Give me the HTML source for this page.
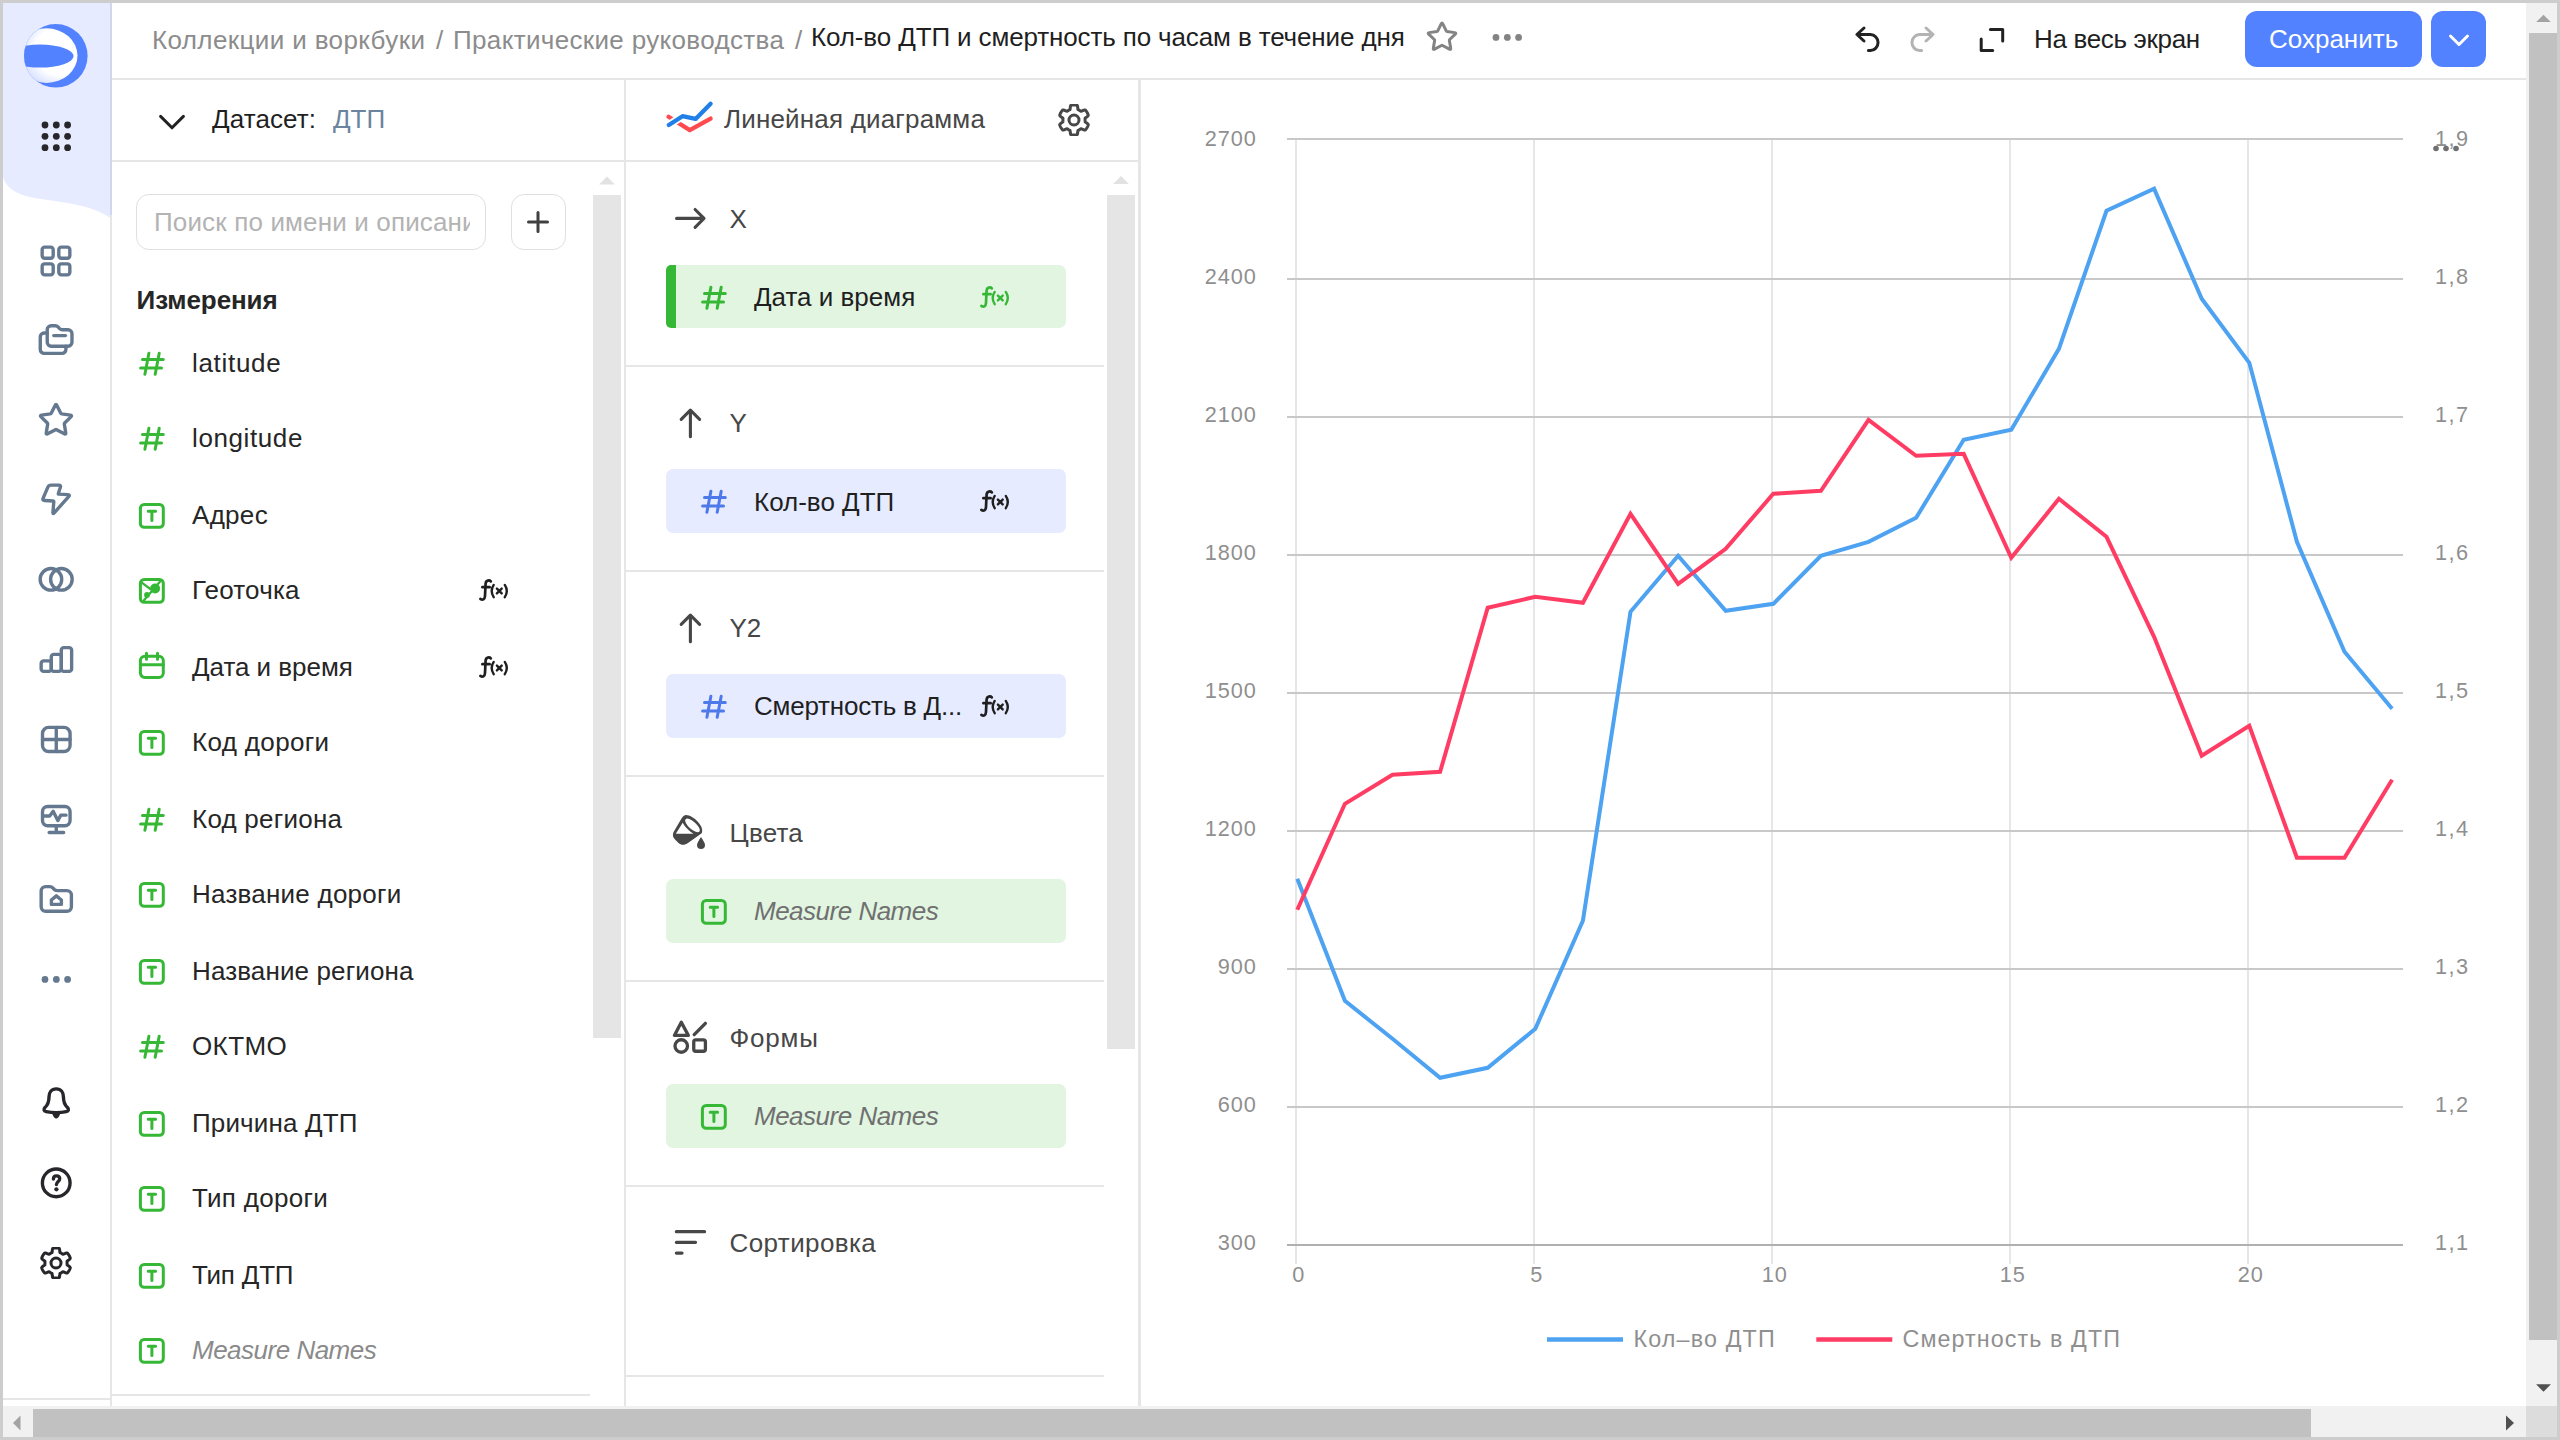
<!DOCTYPE html>
<html lang="ru"><head><meta charset="utf-8"><title>DataLens</title>
<style>
html,body{margin:0;padding:0;}
body{width:2560px;height:1440px;overflow:hidden;background:#cdcdcd;position:relative;font-family:"Liberation Sans",sans-serif;}
.t{position:absolute;white-space:pre;line-height:1;}
.b{position:absolute;}
.i{position:absolute;overflow:visible;}
svg{display:block}
.s{fill:none;stroke:currentColor;stroke-width:1.5;stroke-linecap:round;stroke-linejoin:round}
</style></head><body>
<svg width="0" height="0" style="position:absolute">
<defs>
<symbol id="grid4" viewBox="0 0 16 16"><g class="s"><rect x="1.85" y="1.85" width="4.9" height="4.9" rx="1.1"/><rect x="9.25" y="1.85" width="4.9" height="4.9" rx="1.1"/><rect x="1.85" y="9.25" width="4.9" height="4.9" rx="1.1"/><rect x="9.25" y="9.25" width="4.9" height="4.9" rx="1.1"/></g></symbol>
<symbol id="folders" viewBox="0 0 16 16"><g class="s"><path d="M4.1 3.4a1.75 1.75 0 0 1 1.75-1.75H7.7c.5 0 .9.2 1.2.5l.7.8c.3.3.7.5 1.2.5h2.55a1.75 1.75 0 0 1 1.75 1.75V9a1.75 1.75 0 0 1-1.75 1.75H5.85A1.75 1.75 0 0 1 4.100 9z"/><path d="M4.1 4.9H2.75A1.750 1.750 0 0 0 1 6.65V12.2a1.750 1.750 0 0 0 1.750 1.750h7.900a1.750 1.750 0 0 0 1.750-1.750V10.750"/><path d="M7 6.050h5.200"/></g></symbol>
<symbol id="star" viewBox="0 0 16 16"><path class="s" d="M7.60 1.96L7.60 1.96Q8.00 1.15 8.40 1.96L10.12 5.44Q10.25 5.71 10.55 5.75L14.38 6.31Q15.28 6.44 14.63 7.06L11.85 9.77Q11.64 9.98 11.69 10.28L12.34 14.10Q12.50 14.99 11.70 14.57L8.27 12.76Q8.00 12.62 7.73 12.76L4.30 14.57Q3.50 14.99 3.66 14.10L4.31 10.28Q4.36 9.98 4.15 9.77L1.37 7.06Q0.72 6.44 1.62 6.31L5.45 5.75Q5.75 5.71 5.88 5.44Z"/></symbol>
<symbol id="bolt" viewBox="0 0 16 16"><path class="s" d="M4.39 3.17L4.39 3.17Q4.79 2.25 5.79 2.26L9.25 2.29Q10.25 2.30 9.94 3.25L9.04 5.97Q8.95 6.25 9.25 6.27L13.25 6.49Q14.35 6.55 13.62 7.37L7.21 14.60Q6.55 15.35 6.63 14.35L7.03 9.65Q7.05 9.35 6.75 9.33L2.95 9.11Q1.85 9.05 2.29 8.04Z"/></symbol>
<symbol id="circles" viewBox="0 0 16 16"><g class="s"><circle cx="5.750" cy="8.150" r="4.800"/><circle cx="10.400" cy="8.150" r="4.800"/></g></symbol>
<symbol id="bars" viewBox="0 0 16 16"><g class="s"><rect x="1.400" y="8.850" width="4.500" height="4.650" rx="1.100"/><rect x="5.900" y="5.950" width="4.450" height="7.550" rx="1.100"/><rect x="10.350" y="2.950" width="4.600" height="10.550" rx="1.100"/></g></symbol>
<symbol id="table" viewBox="0 0 16 16"><g class="s"><rect x="2" y="2.850" width="12.250" height="10.700" rx="2.700"/><path d="M8.120 2.850v10.700M2 8.200h12.250"/></g></symbol>
<symbol id="monitor" viewBox="0 0 16 16"><g class="s"><rect x="2" y="2.450" width="12.250" height="8.550" rx="2.300"/><path d="M8.120 11v3M4.950 14h6.450"/><path d="M2.300 6.650H5.200L6.750 4.600L8.800 8.700L10.150 6.300H12.450"/></g></symbol>
<symbol id="foldhome" viewBox="0 0 16 16"><g class="s"><path d="M1.400 4.500a2 2 0 0 1 2-2H5.300c.5 0 1 .2 1.300.6l.7.700c.400.300.800.500 1.300.500h4.250a2 2 0 0 1 2 2V11.450a2 2 0 0 1-2 2H3.400a2 2 0 0 1-2-2z"/><path d="M5.950 10.400V8.450L8.150 6.600L10.400 8.450V10.400Z"/></g></symbol>
<symbol id="dots" viewBox="0 0 16 16"><g fill="currentColor"><circle cx="3.100" cy="8.200" r="1.500"/><circle cx="8.150" cy="8.200" r="1.500"/><circle cx="13.150" cy="8.200" r="1.500"/></g></symbol>
<symbol id="bell" viewBox="0 0 16 16"><path class="s" d="M8.100 1.700C5.900 1.700 4.900 3.400 4.900 5.200C4.900 7.600 4.300 8.900 3.100 10C2.300 10.800 2.600 11.600 3.600 11.800C6.500 12.400 9.700 12.400 12.600 11.800C13.600 11.600 13.900 10.800 13.100 10C11.900 8.900 11.300 7.600 11.300 5.200C11.300 3.400 10.300 1.700 8.100 1.700Z"/><path fill="currentColor" d="M6.300 12.700C6.800 14.300 7.400 14.900 8.100 14.900S9.400 14.300 9.900 12.700Z"/></symbol>
<symbol id="help" viewBox="0 0 16 16"><g class="s"><circle cx="8.100" cy="7.950" r="6.150"/><path d="M6.850 6.200C6.850 5.300 7.400 4.850 8.200 4.850C9.100 4.850 9.650 5.400 9.650 6.100C9.650 7.300 8.200 7.300 8.200 8.700"/></g><circle cx="8.180" cy="10.800" r="0.950" fill="currentColor"/></symbol>
<symbol id="gear" viewBox="0 0 16 16"><g class="s"><path d="M13.55 8.00L13.55 7.85L13.54 7.71L13.53 7.56L13.52 7.42L13.50 7.28L13.52 7.13L13.70 6.94L14.00 6.72L14.37 6.47L14.73 6.20L15.00 5.93L15.14 5.68L15.12 5.48L15.05 5.29L14.98 5.11L14.90 4.93L14.81 4.75L14.73 4.57L14.64 4.40L14.54 4.23L14.44 4.06L14.33 3.89L14.22 3.72L14.11 3.56L13.99 3.40L13.87 3.25L13.74 3.10L13.58 2.98L13.30 2.97L12.93 3.07L12.51 3.25L12.10 3.44L11.76 3.59L11.52 3.66L11.38 3.60L11.26 3.51L11.14 3.43L11.02 3.35L10.90 3.27L10.78 3.19L10.65 3.12L10.52 3.05L10.39 2.99L10.26 2.93L10.12 2.87L10.00 2.78L9.93 2.54L9.90 2.17L9.86 1.72L9.80 1.27L9.71 0.90L9.56 0.65L9.38 0.58L9.18 0.54L8.99 0.51L8.79 0.49L8.59 0.47L8.40 0.46L8.20 0.45L8.00 0.45L7.80 0.45L7.60 0.46L7.41 0.47L7.21 0.49L7.01 0.51L6.82 0.54L6.62 0.58L6.44 0.65L6.29 0.90L6.20 1.27L6.14 1.72L6.10 2.17L6.07 2.54L6.00 2.78L5.88 2.87L5.74 2.93L5.61 2.99L5.48 3.05L5.35 3.12L5.23 3.19L5.10 3.27L4.98 3.35L4.86 3.43L4.74 3.51L4.62 3.60L4.48 3.66L4.24 3.59L3.90 3.44L3.49 3.25L3.07 3.07L2.70 2.97L2.42 2.98L2.26 3.10L2.13 3.25L2.01 3.40L1.89 3.56L1.78 3.72L1.67 3.89L1.56 4.06L1.46 4.23L1.36 4.40L1.27 4.57L1.19 4.75L1.10 4.93L1.02 5.11L0.95 5.29L0.88 5.48L0.86 5.68L1.00 5.93L1.27 6.20L1.63 6.47L2.00 6.72L2.30 6.94L2.48 7.13L2.50 7.28L2.48 7.42L2.47 7.56L2.46 7.71L2.45 7.85L2.45 8.00L2.45 8.15L2.46 8.29L2.47 8.44L2.48 8.58L2.50 8.72L2.48 8.87L2.30 9.06L2.00 9.28L1.63 9.53L1.27 9.80L1.00 10.07L0.86 10.32L0.88 10.52L0.95 10.71L1.02 10.89L1.10 11.07L1.19 11.25L1.27 11.43L1.36 11.60L1.46 11.78L1.56 11.94L1.67 12.11L1.78 12.28L1.89 12.44L2.01 12.60L2.13 12.75L2.26 12.90L2.42 13.02L2.70 13.03L3.07 12.93L3.49 12.75L3.90 12.56L4.24 12.41L4.48 12.34L4.62 12.40L4.74 12.49L4.86 12.57L4.98 12.65L5.10 12.73L5.22 12.81L5.35 12.88L5.48 12.95L5.61 13.01L5.74 13.07L5.88 13.13L6.00 13.22L6.07 13.46L6.10 13.83L6.14 14.28L6.20 14.73L6.29 15.10L6.44 15.35L6.62 15.42L6.82 15.46L7.01 15.49L7.21 15.51L7.41 15.53L7.60 15.54L7.80 15.55L8.00 15.55L8.20 15.55L8.40 15.54L8.59 15.53L8.79 15.51L8.99 15.49L9.18 15.46L9.38 15.42L9.56 15.35L9.71 15.10L9.80 14.73L9.86 14.28L9.90 13.83L9.93 13.46L10.00 13.22L10.12 13.13L10.26 13.07L10.39 13.01L10.52 12.95L10.65 12.88L10.78 12.81L10.90 12.73L11.02 12.65L11.14 12.57L11.26 12.49L11.38 12.40L11.52 12.34L11.76 12.41L12.10 12.56L12.51 12.75L12.93 12.93L13.30 13.03L13.58 13.02L13.74 12.90L13.87 12.75L13.99 12.60L14.11 12.44L14.22 12.28L14.33 12.11L14.44 11.94L14.54 11.78L14.64 11.60L14.73 11.43L14.81 11.25L14.90 11.07L14.98 10.89L15.05 10.71L15.12 10.52L15.14 10.32L15.00 10.07L14.73 9.80L14.37 9.53L14.00 9.28L13.70 9.06L13.52 8.87L13.50 8.72L13.52 8.58L13.53 8.44L13.54 8.29L13.55 8.15Z"/><circle cx="8" cy="8" r="2.500"/></g></symbol>
<symbol id="chevdown" viewBox="0 0 16 16"><path class="s" d="M2.300 5.200L8 10.900L13.700 5.200"/></symbol>
<symbol id="chevsm" viewBox="0 0 16 16"><path class="s" d="M3.750 6L8 10.250L12.250 6"/></symbol>
<symbol id="plus" viewBox="0 0 16 16"><path class="s" d="M8 3.250v9.500M3.250 8h9.500"/></symbol>
<symbol id="hash" viewBox="0 0 16 16"><path class="s" stroke-width="1.400" d="M6.450 2.650L4.450 13.150M11.600 2.650L9.600 13.150M3.250 5.800H13.650M2.300 10H12.750"/></symbol>
<symbol id="ttype" viewBox="0 0 16 16"><g class="s" stroke-width="1.400"><rect x="2.200" y="2.200" width="11.450" height="11.450" rx="1.900"/><path d="M6.100 5.650h3.700M7.950 5.650v4.600"/></g></symbol>
<symbol id="geo" viewBox="0 0 16 16"><g class="s" stroke-width="1.400"><rect x="2.200" y="2.200" width="11.450" height="11.450" rx="1.900"/><path d="M3.800 12.900L12.050 3.200M3.050 3.950L7 6.850" stroke-width="1.150"/></g><circle cx="9.550" cy="6.750" r="2.500" fill="currentColor"/><circle cx="5.500" cy="10" r="1.450" fill="currentColor"/></symbol>
<symbol id="cal" viewBox="0 0 16 16"><g class="s" stroke-width="1.400"><rect x="2.200" y="3.100" width="11.450" height="10.600" rx="2.200"/><path d="M2.200 7.400h11.450M5.250 1.600v3M10.750 1.600v3"/></g></symbol>
<symbol id="undo" viewBox="0 0 16 16"><path class="s" d="M6 2.500L2.450 5.750L6 9M2.600 5.750H9.200a4.030 4.030 0 0 1 0 8.050H8.200"/></symbol>
<symbol id="redo" viewBox="0 0 16 16"><path class="s" d="M10 2.500L13.550 5.750L10 9M13.400 5.750H6.800a4.030 4.030 0 0 0 0 8.050H7.800"/></symbol>
<symbol id="fullscr" viewBox="0 0 16 16"><path class="s" d="M7.200 2.700H13.350V8.450M2.600 7.550V13.300H8.350"/></symbol>
</defs></svg>
<div class="b" style="left:3px;top:3px;width:2554px;height:1434px;background:#ffffff;"></div><svg class="i" style="left:0;top:0" width="120" height="240" viewBox="0 0 120 240"><path d="M3 3H111V218.500C96 207.500 76 204 55 201C30 197.500 9 195.500 3 177Z" fill="#e6ebff"/></svg><div class="b" style="left:110px;top:3px;width:2px;height:1403px;background:#e6e6e6;"></div><div class="b" style="left:110px;top:3px;width:2px;height:212px;background:#cfd6ee;"></div><div class="b" style="left:3px;top:1398px;width:108px;height:2px;background:#e6e6e6;"></div><svg class="i" style="left:20px;top:20px" width="72" height="72" viewBox="20 20 72 72"><defs><clipPath id="lc"><circle cx="55.800" cy="55.800" r="31.800"/></clipPath><radialGradient id="lg" cx="0.750" cy="0.420" r="0.800"><stop offset="0" stop-color="#ffffff"/><stop offset="0.550" stop-color="#ffffff"/><stop offset="1" stop-color="#c4d3ff"/></radialGradient></defs><circle cx="55.800" cy="55.800" r="31.800" fill="#5282ff"/><g clip-path="url(#lc)"><ellipse cx="46.500" cy="55.600" rx="31" ry="27.300" fill="url(#lg)"/><ellipse cx="40" cy="56.100" rx="33.600" ry="11.500" fill="#5282ff"/></g></svg><svg class="i" style="left:36px;top:116px" width="40" height="40" viewBox="36 116 40 40"><g fill="#26262b"><circle cx="45" cy="125" r="3.400"/><circle cx="56.3" cy="125" r="3.400"/><circle cx="67.6" cy="125" r="3.400"/><circle cx="45" cy="136.3" r="3.400"/><circle cx="56.3" cy="136.3" r="3.400"/><circle cx="67.6" cy="136.3" r="3.400"/><circle cx="45" cy="147.7" r="3.400"/><circle cx="56.3" cy="147.7" r="3.400"/><circle cx="67.6" cy="147.7" r="3.400"/></g></svg><svg class="i" style="left:38.00px;top:243.00px;color:#64788f;" width="36" height="36" viewBox="0 0 16 16"><use href="#grid4"/></svg><svg class="i" style="left:38.00px;top:322.00px;color:#64788f;" width="36" height="36" viewBox="0 0 16 16"><use href="#folders"/></svg><svg class="i" style="left:38.00px;top:400.50px;color:#64788f;" width="36" height="36" viewBox="0 0 16 16"><use href="#star"/></svg><svg class="i" style="left:38.00px;top:480.00px;color:#64788f;" width="36" height="36" viewBox="0 0 16 16"><use href="#bolt"/></svg><svg class="i" style="left:38.00px;top:561.00px;color:#64788f;" width="36" height="36" viewBox="0 0 16 16"><use href="#circles"/></svg><svg class="i" style="left:38.00px;top:641.00px;color:#64788f;" width="36" height="36" viewBox="0 0 16 16"><use href="#bars"/></svg><svg class="i" style="left:38.00px;top:721.00px;color:#64788f;" width="36" height="36" viewBox="0 0 16 16"><use href="#table"/></svg><svg class="i" style="left:38.00px;top:801.00px;color:#64788f;" width="36" height="36" viewBox="0 0 16 16"><use href="#monitor"/></svg><svg class="i" style="left:38.00px;top:881.00px;color:#64788f;" width="36" height="36" viewBox="0 0 16 16"><use href="#foldhome"/></svg><svg class="i" style="left:38.00px;top:961.00px;color:#64788f;" width="36" height="36" viewBox="0 0 16 16"><use href="#dots"/></svg><svg class="i" style="left:38.00px;top:1085.00px;color:#26262b;" width="36" height="36" viewBox="0 0 16 16"><use href="#bell"/></svg><svg class="i" style="left:38.00px;top:1165.00px;color:#26262b;" width="36" height="36" viewBox="0 0 16 16"><use href="#help"/></svg><svg class="i" style="left:40.30px;top:1246.80px;color:#26262b;" width="32" height="32" viewBox="0 0 16 16"><use href="#gear"/></svg><div class="b" style="left:112px;top:78px;width:2414px;height:2px;background:#e6e6e6;"></div><div class="t" style="left:152px;top:26.79px;font-size:26px;color:#8c8c8c;font-weight:400;font-style:normal;letter-spacing:0.38px;font-family:'Liberation Sans',sans-serif;">Коллекции и воркбуки</div><div class="t" style="left:436px;top:26.79px;font-size:26px;color:#8c8c8c;font-weight:400;font-style:normal;letter-spacing:0px;font-family:'Liberation Sans',sans-serif;">/</div><div class="t" style="left:453px;top:26.79px;font-size:26px;color:#8c8c8c;font-weight:400;font-style:normal;letter-spacing:0.34px;font-family:'Liberation Sans',sans-serif;">Практические руководства</div><div class="t" style="left:795px;top:26.79px;font-size:26px;color:#8c8c8c;font-weight:400;font-style:normal;letter-spacing:0px;font-family:'Liberation Sans',sans-serif;">/</div><div class="t" style="left:811px;top:24.29px;font-size:26px;color:#1f1f1f;font-weight:400;font-style:normal;letter-spacing:-0.13px;font-family:'Liberation Sans',sans-serif;">Кол-во ДТП и смертность по часам в течение дня</div><svg class="i" style="left:1425.50px;top:19.50px;color:#838383;" width="32" height="32" viewBox="0 0 16 16"><use href="#star"/></svg><svg class="i" style="left:1489.06px;top:18.75px;color:#838383;" width="36" height="36" viewBox="0 0 16 16"><use href="#dots"/></svg><svg class="i" style="left:1851.80px;top:23.00px;color:#222222;" width="32" height="32" viewBox="0 0 16 16"><use href="#undo"/></svg><svg class="i" style="left:1906.20px;top:23.00px;color:#b3b3b3;" width="32" height="32" viewBox="0 0 16 16"><use href="#redo"/></svg><svg class="i" style="left:1976.00px;top:24.00px;color:#222222;" width="32" height="32" viewBox="0 0 16 16"><use href="#fullscr"/></svg><div class="t" style="left:2034px;top:26.29px;font-size:26px;color:#1f1f1f;font-weight:400;font-style:normal;letter-spacing:-0.33px;font-family:'Liberation Sans',sans-serif;">На весь экран</div><div class="b" style="left:2245px;top:11px;width:177px;height:56px;background:#5282ff;border-radius:12px"></div><div class="t" style="left:2269px;top:26.29px;font-size:26px;color:#ffffff;font-weight:400;font-style:normal;letter-spacing:0px;font-family:'Liberation Sans',sans-serif;">Сохранить</div><div class="b" style="left:2431px;top:11px;width:55px;height:56px;background:#5282ff;border-radius:12px"></div><svg class="i" style="left:2443.00px;top:24.00px;color:#ffffff;" width="32" height="32" viewBox="0 0 16 16"><use href="#chevsm"/></svg><div class="b" style="left:2526px;top:3px;width:31px;height:1403px;background:#f1f1f1;"></div><div class="b" style="left:2529px;top:33px;width:28px;height:1307px;background:#c1c1c1;"></div><svg class="i" style="left:2526px;top:3px" width="31" height="34" viewBox="0 0 31 34"><path d="M10.200 19L17.500 11.700L24.800 19Z" fill="#a3a3a3"/></svg><svg class="i" style="left:2526px;top:1372px" width="31" height="34" viewBox="0 0 31 34"><path d="M10.100 12.200L17.500 19.800L24.900 12.200Z" fill="#505050"/></svg><div class="b" style="left:3px;top:1406px;width:2554px;height:31px;background:#f1f1f1;"></div><div class="b" style="left:33px;top:1409px;width:2278px;height:28px;background:#c1c1c1;"></div><svg class="i" style="left:3px;top:1406px" width="34" height="31" viewBox="0 0 34 31"><path d="M17.500 9.500L10 17L17.500 24.500Z" fill="#a3a3a3"/></svg><svg class="i" style="left:2492px;top:1406px" width="34" height="31" viewBox="0 0 34 31"><path d="M14 9.500L22 17L14 24.500Z" fill="#505050"/></svg><div class="b" style="left:2526px;top:1406px;width:31px;height:31px;background:#dcdcdc;"></div><div class="b" style="left:112px;top:159.6px;width:1027px;height:2px;background:#e6e6e6;"></div><div class="b" style="left:624px;top:80px;width:2px;height:1326px;background:#e6e6e6;"></div><div class="b" style="left:1138px;top:80px;width:2.8px;height:1326px;background:#e6e6e6;"></div><svg class="i" style="left:156.00px;top:105.60px;color:#222222;" width="32" height="32" viewBox="0 0 16 16"><use href="#chevdown"/></svg><div class="t" style="left:212px;top:106.29px;font-size:26px;color:#1f1f1f;font-weight:400;font-style:normal;letter-spacing:0.1px;font-family:'Liberation Sans',sans-serif;">Датасет:</div><div class="t" style="left:333px;top:106.29px;font-size:26px;color:#6b84a0;font-weight:400;font-style:normal;letter-spacing:0px;font-family:'Liberation Sans',sans-serif;">ДТП</div><div class="b" style="left:136.3px;top:194px;width:349.7px;height:55.6px;background:#fff;border:1.600px solid #e0e0e0;border-radius:13px;box-sizing:border-box"></div><div class="b" style="left:154px;top:197px;width:316px;height:50px;overflow:hidden"><div class="t" style="left:0px;top:12.29px;font-size:26px;color:#b3b3b3;font-weight:400;font-style:normal;letter-spacing:0.15px;font-family:'Liberation Sans',sans-serif;">Поиск по имени и описанию</div></div><div class="b" style="left:510.8px;top:194px;width:55.4px;height:55.6px;background:#fff;border:1.600px solid #e0e0e0;border-radius:13px;box-sizing:border-box"></div><svg class="i" style="left:522.15px;top:205.60px;color:#404040;" width="32" height="32" viewBox="0 0 16 16"><use href="#plus"/></svg><div class="b" style="left:593.4px;top:195px;width:27.7px;height:843px;background:#e5e5e5;"></div><svg class="i" style="left:593.400px;top:169.500px" width="28" height="20" viewBox="0 0 28 20"><path d="M6.100 14.400L14 6.400L21.900 14.400Z" fill="#e2e2e2"/></svg><div class="t" style="left:136.6px;top:286.89px;font-size:26px;color:#262626;font-weight:700;font-style:normal;letter-spacing:-0.1px;font-family:'Liberation Sans',sans-serif;">Измерения</div><svg class="i" style="left:135.70px;top:347.50px;color:#36b836;" width="32" height="32" viewBox="0 0 16 16"><use href="#hash"/></svg><div class="t" style="left:192px;top:349.99px;font-size:26px;color:#262626;font-weight:400;font-style:normal;letter-spacing:0.69px;font-family:'Liberation Sans',sans-serif;">latitude</div><svg class="i" style="left:135.70px;top:422.50px;color:#36b836;" width="32" height="32" viewBox="0 0 16 16"><use href="#hash"/></svg><div class="t" style="left:192px;top:424.99px;font-size:26px;color:#262626;font-weight:400;font-style:normal;letter-spacing:0.6px;font-family:'Liberation Sans',sans-serif;">longitude</div><svg class="i" style="left:135.70px;top:499.50px;color:#36b836;" width="32" height="32" viewBox="0 0 16 16"><use href="#ttype"/></svg><div class="t" style="left:192px;top:501.99px;font-size:26px;color:#262626;font-weight:400;font-style:normal;letter-spacing:0.3px;font-family:'Liberation Sans',sans-serif;">Адрес</div><svg class="i" style="left:135.70px;top:574.50px;color:#36b836;" width="32" height="32" viewBox="0 0 16 16"><use href="#geo"/></svg><div class="t" style="left:192px;top:576.99px;font-size:26px;color:#262626;font-weight:400;font-style:normal;letter-spacing:0.19px;font-family:'Liberation Sans',sans-serif;">Геоточка</div><svg class="i" style="left:470px;top:565px;" width="50" height="50" viewBox="470 565 50 50"><g transform="translate(470 565)" fill="none" stroke="#1f1f1f" stroke-width="2.700" stroke-linecap="round" stroke-linejoin="round"><path d="M20.800 16.400C19.600 15 16.100 14.900 15.600 18.500L15 31C14.800 34.600 12.500 35.600 10.400 33.900"/><path d="M12.400 22.200H19.600"/><path d="M23.700 19.900Q19.700 26 23.700 32.200" stroke-width="2.400"/><path d="M26.900 23.600L31.700 28.400M31.700 23.600L26.900 28.400" stroke-width="2.400"/><path d="M34.800 19.900Q38.800 26 34.800 32.200" stroke-width="2.400"/></g></svg><svg class="i" style="left:135.70px;top:650.00px;color:#36b836;" width="32" height="32" viewBox="0 0 16 16"><use href="#cal"/></svg><div class="t" style="left:192px;top:653.99px;font-size:26px;color:#262626;font-weight:400;font-style:normal;letter-spacing:-0.04px;font-family:'Liberation Sans',sans-serif;">Дата и время</div><svg class="i" style="left:470px;top:642px;" width="50" height="50" viewBox="470 642 50 50"><g transform="translate(470 642)" fill="none" stroke="#1f1f1f" stroke-width="2.700" stroke-linecap="round" stroke-linejoin="round"><path d="M20.800 16.400C19.600 15 16.100 14.900 15.600 18.500L15 31C14.800 34.600 12.500 35.600 10.400 33.900"/><path d="M12.400 22.200H19.600"/><path d="M23.700 19.900Q19.700 26 23.700 32.200" stroke-width="2.400"/><path d="M26.900 23.600L31.700 28.400M31.700 23.600L26.900 28.400" stroke-width="2.400"/><path d="M34.800 19.900Q38.800 26 34.800 32.200" stroke-width="2.400"/></g></svg><svg class="i" style="left:135.70px;top:726.50px;color:#36b836;" width="32" height="32" viewBox="0 0 16 16"><use href="#ttype"/></svg><div class="t" style="left:192px;top:728.99px;font-size:26px;color:#262626;font-weight:400;font-style:normal;letter-spacing:0.35px;font-family:'Liberation Sans',sans-serif;">Код дороги</div><svg class="i" style="left:135.70px;top:803.50px;color:#36b836;" width="32" height="32" viewBox="0 0 16 16"><use href="#hash"/></svg><div class="t" style="left:192px;top:805.99px;font-size:26px;color:#262626;font-weight:400;font-style:normal;letter-spacing:0.23px;font-family:'Liberation Sans',sans-serif;">Код региона</div><svg class="i" style="left:135.70px;top:878.50px;color:#36b836;" width="32" height="32" viewBox="0 0 16 16"><use href="#ttype"/></svg><div class="t" style="left:192px;top:880.99px;font-size:26px;color:#262626;font-weight:400;font-style:normal;letter-spacing:0.23px;font-family:'Liberation Sans',sans-serif;">Название дороги</div><svg class="i" style="left:135.70px;top:955.50px;color:#36b836;" width="32" height="32" viewBox="0 0 16 16"><use href="#ttype"/></svg><div class="t" style="left:192px;top:957.99px;font-size:26px;color:#262626;font-weight:400;font-style:normal;letter-spacing:0.12px;font-family:'Liberation Sans',sans-serif;">Название региона</div><svg class="i" style="left:135.70px;top:1030.50px;color:#36b836;" width="32" height="32" viewBox="0 0 16 16"><use href="#hash"/></svg><div class="t" style="left:192px;top:1032.99px;font-size:26px;color:#262626;font-weight:400;font-style:normal;letter-spacing:0.4px;font-family:'Liberation Sans',sans-serif;">ОКТМО</div><svg class="i" style="left:135.70px;top:1107.50px;color:#36b836;" width="32" height="32" viewBox="0 0 16 16"><use href="#ttype"/></svg><div class="t" style="left:192px;top:1109.99px;font-size:26px;color:#262626;font-weight:400;font-style:normal;letter-spacing:0.14px;font-family:'Liberation Sans',sans-serif;">Причина ДТП</div><svg class="i" style="left:135.70px;top:1182.50px;color:#36b836;" width="32" height="32" viewBox="0 0 16 16"><use href="#ttype"/></svg><div class="t" style="left:192px;top:1184.99px;font-size:26px;color:#262626;font-weight:400;font-style:normal;letter-spacing:0.3px;font-family:'Liberation Sans',sans-serif;">Тип дороги</div><svg class="i" style="left:135.70px;top:1259.50px;color:#36b836;" width="32" height="32" viewBox="0 0 16 16"><use href="#ttype"/></svg><div class="t" style="left:192px;top:1261.99px;font-size:26px;color:#262626;font-weight:400;font-style:normal;letter-spacing:-0.2px;font-family:'Liberation Sans',sans-serif;">Тип ДТП</div><svg class="i" style="left:135.70px;top:1334.50px;color:#36b836;" width="32" height="32" viewBox="0 0 16 16"><use href="#ttype"/></svg><div class="t" style="left:192px;top:1336.99px;font-size:26px;color:#8a8a8a;font-weight:400;font-style:italic;letter-spacing:-0.5px;font-family:'Liberation Sans',sans-serif;">Measure Names</div><div class="b" style="left:112px;top:1394px;width:478px;height:2px;background:#e6e6e6;"></div><svg class="i" style="left:660px;top:95px;" width="60" height="45" viewBox="660 95 60 45"><path d="M668.500 116.800L689.800 130.100L710.600 118.600" fill="none" stroke="#ff4b50" stroke-width="4.300" stroke-linecap="round" stroke-linejoin="round"/><path d="M668.800 125L682.500 116.200L695.600 118.900L710.600 103.700" fill="none" stroke="#ffffff" stroke-width="8" stroke-linecap="butt" stroke-linejoin="round"/><path d="M668.800 125L682.500 116.200L695.600 118.900L710.600 103.700" fill="none" stroke="#2080e8" stroke-width="4.300" stroke-linecap="round" stroke-linejoin="round"/></svg><div class="t" style="left:724px;top:106.29px;font-size:26px;color:#474747;font-weight:400;font-style:normal;letter-spacing:0.18px;font-family:'Liberation Sans',sans-serif;">Линейная диаграмма</div><svg class="i" style="left:1058.00px;top:104.20px;color:#474747;" width="32" height="32" viewBox="0 0 16 16"><use href="#gear"/></svg><div class="b" style="left:1107px;top:195px;width:28px;height:854px;background:#e5e5e5;"></div><svg class="i" style="left:1107px;top:170px" width="28" height="20" viewBox="0 0 28 20"><path d="M6.100 14.100L14 6.100L21.900 14.100Z" fill="#e2e2e2"/></svg><svg class="i" style="left:670px;top:200px;" width="44" height="40" viewBox="670 200 44 40"><g transform="translate(0 0)" fill="none" stroke="currentColor" stroke-linecap="round" stroke-linejoin="round" stroke-width="3.100" style="color:#474747"><path d="M676.600 218.400H703.600M695.100 209.500L704 218.400L695.100 227.300"/></g></svg><div class="t" style="left:729.5px;top:205.89px;font-size:26px;color:#474747;font-weight:400;font-style:normal;letter-spacing:0px;font-family:'Liberation Sans',sans-serif;">X</div><div class="b" style="left:666px;top:264.8px;width:400px;height:63.5px;background:#e1f5e1;border-radius:7px"></div><div class="b" style="left:666px;top:264.8px;width:9.5px;height:63.5px;background:#36b836;border-radius:5px 0 0 5px"></div><svg class="i" style="left:697.50px;top:281.80px;color:#36b836;" width="32" height="32" viewBox="0 0 16 16"><use href="#hash"/></svg><div class="t" style="left:754px;top:284.29px;font-size:26px;color:#1f1f1f;font-weight:400;font-style:normal;letter-spacing:0px;font-family:'Liberation Sans',sans-serif;">Дата и время</div><svg class="i" style="left:971px;top:271.8px;" width="50" height="50" viewBox="971 271.8 50 50"><g transform="translate(971 271.8)" fill="none" stroke="#36b836" stroke-width="2.700" stroke-linecap="round" stroke-linejoin="round"><path d="M20.800 16.400C19.600 15 16.100 14.900 15.600 18.500L15 31C14.800 34.600 12.500 35.600 10.400 33.900"/><path d="M12.400 22.200H19.600"/><path d="M23.700 19.900Q19.700 26 23.700 32.200" stroke-width="2.400"/><path d="M26.900 23.600L31.700 28.400M31.700 23.600L26.900 28.400" stroke-width="2.400"/><path d="M34.800 19.900Q38.800 26 34.800 32.200" stroke-width="2.400"/></g></svg><div class="b" style="left:626px;top:365px;width:478px;height:2px;background:#e6e6e6;"></div><svg class="i" style="left:670px;top:400px;" width="44" height="46" viewBox="670 400 44 46"><g transform="translate(0 0)" fill="none" stroke="currentColor" stroke-linecap="round" stroke-linejoin="round" stroke-width="3.100" style="color:#474747"><path d="M690.400 436.700V410.500M681.200 419.300L690.400 410.100L699.600 419.300"/></g></svg><div class="t" style="left:729.5px;top:409.89px;font-size:26px;color:#474747;font-weight:400;font-style:normal;letter-spacing:0px;font-family:'Liberation Sans',sans-serif;">Y</div><div class="b" style="left:666px;top:469.3px;width:400px;height:63.5px;background:#e6ebff;border-radius:7px"></div><svg class="i" style="left:697.50px;top:486.30px;color:#4d79ea;" width="32" height="32" viewBox="0 0 16 16"><use href="#hash"/></svg><div class="t" style="left:754px;top:488.79px;font-size:26px;color:#1f1f1f;font-weight:400;font-style:normal;letter-spacing:0px;font-family:'Liberation Sans',sans-serif;">Кол-во ДТП</div><svg class="i" style="left:971px;top:476.3px;" width="50" height="50" viewBox="971 476.3 50 50"><g transform="translate(971 476.3)" fill="none" stroke="#1f1f1f" stroke-width="2.700" stroke-linecap="round" stroke-linejoin="round"><path d="M20.800 16.400C19.600 15 16.100 14.900 15.600 18.500L15 31C14.800 34.600 12.500 35.600 10.400 33.900"/><path d="M12.400 22.200H19.600"/><path d="M23.700 19.900Q19.700 26 23.700 32.200" stroke-width="2.400"/><path d="M26.900 23.600L31.700 28.400M31.700 23.600L26.900 28.400" stroke-width="2.400"/><path d="M34.800 19.900Q38.800 26 34.800 32.200" stroke-width="2.400"/></g></svg><div class="b" style="left:626px;top:570px;width:478px;height:2px;background:#e6e6e6;"></div><svg class="i" style="left:670px;top:605px;" width="44" height="46" viewBox="670 605 44 46"><g transform="translate(0 205)" fill="none" stroke="currentColor" stroke-linecap="round" stroke-linejoin="round" stroke-width="3.100" style="color:#474747"><path d="M690.400 436.700V410.500M681.200 419.300L690.400 410.100L699.600 419.300"/></g></svg><div class="t" style="left:729.5px;top:614.89px;font-size:26px;color:#474747;font-weight:400;font-style:normal;letter-spacing:0px;font-family:'Liberation Sans',sans-serif;">Y2</div><div class="b" style="left:666px;top:674px;width:400px;height:63.5px;background:#e6ebff;border-radius:7px"></div><svg class="i" style="left:697.50px;top:691.00px;color:#4d79ea;" width="32" height="32" viewBox="0 0 16 16"><use href="#hash"/></svg><div class="t" style="left:754px;top:693.49px;font-size:26px;color:#1f1f1f;font-weight:400;font-style:normal;letter-spacing:-0.22px;font-family:'Liberation Sans',sans-serif;">Смертность в Д...</div><svg class="i" style="left:971px;top:681px;" width="50" height="50" viewBox="971 681 50 50"><g transform="translate(971 681)" fill="none" stroke="#1f1f1f" stroke-width="2.700" stroke-linecap="round" stroke-linejoin="round"><path d="M20.800 16.400C19.600 15 16.100 14.900 15.600 18.500L15 31C14.800 34.600 12.500 35.600 10.400 33.900"/><path d="M12.400 22.200H19.600"/><path d="M23.700 19.900Q19.700 26 23.700 32.200" stroke-width="2.400"/><path d="M26.900 23.600L31.700 28.400M31.700 23.600L26.900 28.400" stroke-width="2.400"/><path d="M34.800 19.900Q38.800 26 34.800 32.200" stroke-width="2.400"/></g></svg><div class="b" style="left:626px;top:775px;width:478px;height:2px;background:#e6e6e6;"></div><svg class="i" style="left:665px;top:805px;" width="50" height="55" viewBox="665 805 50 55"><g fill="#474747"><path fill-rule="evenodd" d="M685 815.200C688.500 814.600 694 817.500 698 822C701.500 825.800 703.200 830 701.700 833.300L688 843C684.500 845.500 681 845.200 678.500 843L674.800 839.200C672.600 837 672.500 834.500 673.600 832L681.200 819C682.300 817 683.600 815.600 685 815.200ZM682.700 822.700L675.800 833.750H693.500C689 831 685 827 682.700 822.700Z"/><ellipse cx="692.500" cy="825.400" rx="9.300" ry="3.700" transform="rotate(41.700 692.500 825.400)" fill="#ffffff"/><path d="M701 837C703 840 705 843 705 845A4 4 0 0 1 697 845C697 843 699 840 701 837Z"/></g></svg><div class="t" style="left:729.5px;top:819.89px;font-size:26px;color:#474747;font-weight:400;font-style:normal;letter-spacing:0.2px;font-family:'Liberation Sans',sans-serif;">Цвета</div><div class="b" style="left:666px;top:879px;width:400px;height:63.5px;background:#e1f5e1;border-radius:7px"></div><svg class="i" style="left:697.50px;top:896.00px;color:#36b836;" width="32" height="32" viewBox="0 0 16 16"><use href="#ttype"/></svg><div class="t" style="left:754px;top:898.49px;font-size:26px;color:#707070;font-weight:400;font-style:italic;letter-spacing:-0.5px;font-family:'Liberation Sans',sans-serif;">Measure Names</div><div class="b" style="left:626px;top:980px;width:478px;height:2px;background:#e6e6e6;"></div><svg class="i" style="left:668px;top:1015px;" width="46" height="46" viewBox="668 1015 46 46"><g fill="none" stroke="currentColor" stroke-linecap="round" stroke-linejoin="round" stroke-width="3.300" style="color:#474747"><path d="M681.300 1022.300L674.400 1035.400H688.300Z"/><path d="M694.200 1034.600L705.400 1023.300"/><circle cx="681.250" cy="1046" r="6.250"/><rect x="693.750" y="1039.800" width="11.650" height="11.450" rx="2"/></g></svg><div class="t" style="left:729.5px;top:1024.89px;font-size:26px;color:#474747;font-weight:400;font-style:normal;letter-spacing:0.8px;font-family:'Liberation Sans',sans-serif;">Формы</div><div class="b" style="left:666px;top:1084px;width:400px;height:63.5px;background:#e1f5e1;border-radius:7px"></div><svg class="i" style="left:697.50px;top:1101.00px;color:#36b836;" width="32" height="32" viewBox="0 0 16 16"><use href="#ttype"/></svg><div class="t" style="left:754px;top:1103.49px;font-size:26px;color:#707070;font-weight:400;font-style:italic;letter-spacing:-0.5px;font-family:'Liberation Sans',sans-serif;">Measure Names</div><div class="b" style="left:626px;top:1185px;width:478px;height:2px;background:#e6e6e6;"></div><svg class="i" style="left:670px;top:1222px;" width="44" height="40" viewBox="670 1222 44 40"><g fill="none" stroke="currentColor" stroke-linecap="round" stroke-linejoin="round" stroke-width="3.300" style="color:#474747"><path d="M676.400 1231.700H704.500M676.400 1242.300H695.500M676.400 1253.100H682"/></g></svg><div class="t" style="left:729.5px;top:1229.89px;font-size:26px;color:#474747;font-weight:400;font-style:normal;letter-spacing:0.4px;font-family:'Liberation Sans',sans-serif;">Сортировка</div><div class="b" style="left:626px;top:1375px;width:478px;height:2px;background:#e6e6e6;"></div><svg class="i" style="left:1140px;top:80px" width="1386" height="1326" viewBox="1140 80 1386 1326"><path d="M1296.00 140V1264" stroke="#e6e6e6" stroke-width="2" fill="none"/><path d="M1534.00 140V1264" stroke="#e6e6e6" stroke-width="2" fill="none"/><path d="M1772.00 140V1264" stroke="#e6e6e6" stroke-width="2" fill="none"/><path d="M2010.00 140V1264" stroke="#e6e6e6" stroke-width="2" fill="none"/><path d="M2248.00 140V1264" stroke="#e6e6e6" stroke-width="2" fill="none"/><path d="M1287 139.00H2403" stroke="#c8c8c8" stroke-width="2" fill="none"/><path d="M1287 279.00H2403" stroke="#c8c8c8" stroke-width="2" fill="none"/><path d="M1287 417.00H2403" stroke="#c8c8c8" stroke-width="2" fill="none"/><path d="M1287 555.00H2403" stroke="#c8c8c8" stroke-width="2" fill="none"/><path d="M1287 693.00H2403" stroke="#c8c8c8" stroke-width="2" fill="none"/><path d="M1287 831.00H2403" stroke="#c8c8c8" stroke-width="2" fill="none"/><path d="M1287 969.00H2403" stroke="#c8c8c8" stroke-width="2" fill="none"/><path d="M1287 1107.00H2403" stroke="#c8c8c8" stroke-width="2" fill="none"/><path d="M1287 1245.00H2403" stroke="#b0b0b0" stroke-width="2" fill="none"/><path d="M1297.3 878.8 L1344.9 1000.8 L1392.5 1038.8 L1440.1 1077.8 L1487.7 1067.8 L1535.3 1028.8 L1582.9 920.8 L1630.5 611.8 L1678.1 555.8 L1725.7 610.8 L1773.3 603.8 L1820.9 555.8 L1868.5 541.8 L1916.1 517.8 L1963.7 439.8 L2011.3 429.8 L2058.9 348.8 L2106.5 210.8 L2154.1 188.8 L2201.7 298.8 L2249.3 362.8 L2296.9 541.8 L2344.5 651.8 L2392.1 708.8" stroke="#4da2f1" stroke-width="4" fill="none" stroke-linejoin="miter" stroke-miterlimit="6" stroke-linecap="butt"/><path d="M1297.3 909.8 L1344.9 803.8 L1392.5 774.8 L1440.1 771.8 L1487.7 607.8 L1535.3 596.8 L1582.9 602.8 L1630.5 513.8 L1678.1 583.8 L1725.7 548.8 L1773.3 493.8 L1820.9 490.8 L1868.5 419.8 L1916.1 455.8 L1963.7 453.8 L2011.3 557.8 L2058.9 498.8 L2106.5 536.8 L2154.1 636.8 L2201.7 755.8 L2249.3 725.8 L2296.9 857.8 L2344.5 857.8 L2392.1 779.8" stroke="#ff3d64" stroke-width="4" fill="none" stroke-linejoin="miter" stroke-miterlimit="6" stroke-linecap="butt"/><path d="M1547 1339.500H1623" stroke="#4da2f1" stroke-width="4.400"/><path d="M1816.300 1339.500H1892.300" stroke="#ff3d64" stroke-width="4.400"/></svg><div class="t" style="right:1303.1px;top:127.63px;font-size:21.7px;color:#8f8f8f;letter-spacing:1.0px">2700</div><div class="t" style="right:1303.1px;top:265.63px;font-size:21.7px;color:#8f8f8f;letter-spacing:1.0px">2400</div><div class="t" style="right:1303.1px;top:403.63px;font-size:21.7px;color:#8f8f8f;letter-spacing:1.0px">2100</div><div class="t" style="right:1303.1px;top:541.63px;font-size:21.7px;color:#8f8f8f;letter-spacing:1.0px">1800</div><div class="t" style="right:1303.1px;top:679.63px;font-size:21.7px;color:#8f8f8f;letter-spacing:1.0px">1500</div><div class="t" style="right:1303.1px;top:817.63px;font-size:21.7px;color:#8f8f8f;letter-spacing:1.0px">1200</div><div class="t" style="right:1303.1px;top:955.63px;font-size:21.7px;color:#8f8f8f;letter-spacing:1.0px">900</div><div class="t" style="right:1303.1px;top:1093.63px;font-size:21.7px;color:#8f8f8f;letter-spacing:1.0px">600</div><div class="t" style="right:1303.1px;top:1231.63px;font-size:21.7px;color:#8f8f8f;letter-spacing:1.0px">300</div><div class="t" style="left:2435px;top:127.63px;font-size:21.7px;color:#8f8f8f;font-weight:400;font-style:normal;letter-spacing:1.5px;font-family:'Liberation Sans',sans-serif;">1,9</div><div class="t" style="left:2435px;top:265.63px;font-size:21.7px;color:#8f8f8f;font-weight:400;font-style:normal;letter-spacing:1.5px;font-family:'Liberation Sans',sans-serif;">1,8</div><div class="t" style="left:2435px;top:403.63px;font-size:21.7px;color:#8f8f8f;font-weight:400;font-style:normal;letter-spacing:1.5px;font-family:'Liberation Sans',sans-serif;">1,7</div><div class="t" style="left:2435px;top:541.63px;font-size:21.7px;color:#8f8f8f;font-weight:400;font-style:normal;letter-spacing:1.5px;font-family:'Liberation Sans',sans-serif;">1,6</div><div class="t" style="left:2435px;top:679.63px;font-size:21.7px;color:#8f8f8f;font-weight:400;font-style:normal;letter-spacing:1.5px;font-family:'Liberation Sans',sans-serif;">1,5</div><div class="t" style="left:2435px;top:817.63px;font-size:21.7px;color:#8f8f8f;font-weight:400;font-style:normal;letter-spacing:1.5px;font-family:'Liberation Sans',sans-serif;">1,4</div><div class="t" style="left:2435px;top:955.63px;font-size:21.7px;color:#8f8f8f;font-weight:400;font-style:normal;letter-spacing:1.5px;font-family:'Liberation Sans',sans-serif;">1,3</div><div class="t" style="left:2435px;top:1093.63px;font-size:21.7px;color:#8f8f8f;font-weight:400;font-style:normal;letter-spacing:1.5px;font-family:'Liberation Sans',sans-serif;">1,2</div><div class="t" style="left:2435px;top:1231.63px;font-size:21.7px;color:#8f8f8f;font-weight:400;font-style:normal;letter-spacing:1.5px;font-family:'Liberation Sans',sans-serif;">1,1</div><div class="t" style="left:1248.80px;width:100px;text-align:center;top:1263.83px;font-size:21.7px;color:#8f8f8f;letter-spacing:1.0px">0</div><div class="t" style="left:1486.80px;width:100px;text-align:center;top:1263.83px;font-size:21.7px;color:#8f8f8f;letter-spacing:1.0px">5</div><div class="t" style="left:1724.80px;width:100px;text-align:center;top:1263.83px;font-size:21.7px;color:#8f8f8f;letter-spacing:1.0px">10</div><div class="t" style="left:1962.80px;width:100px;text-align:center;top:1263.83px;font-size:21.7px;color:#8f8f8f;letter-spacing:1.0px">15</div><div class="t" style="left:2200.80px;width:100px;text-align:center;top:1263.83px;font-size:21.7px;color:#8f8f8f;letter-spacing:1.0px">20</div><div class="t" style="left:1633.5px;top:1328.28px;font-size:23.3px;color:#8f8f8f;font-weight:400;font-style:normal;letter-spacing:1.15px;font-family:'Liberation Sans',sans-serif;">Кол–во ДТП</div><div class="t" style="left:1902.5px;top:1328.28px;font-size:23.3px;color:#8f8f8f;font-weight:400;font-style:normal;letter-spacing:1.08px;font-family:'Liberation Sans',sans-serif;">Смертность в ДТП</div><svg class="i" style="left:2427.800px;top:140px" width="36" height="16" viewBox="0 0 36 16"><g fill="#707070"><circle cx="8" cy="8.500" r="2.800"/><circle cx="18" cy="8.500" r="2.800"/><circle cx="28" cy="8.500" r="2.800"/></g></svg>
</body></html>
